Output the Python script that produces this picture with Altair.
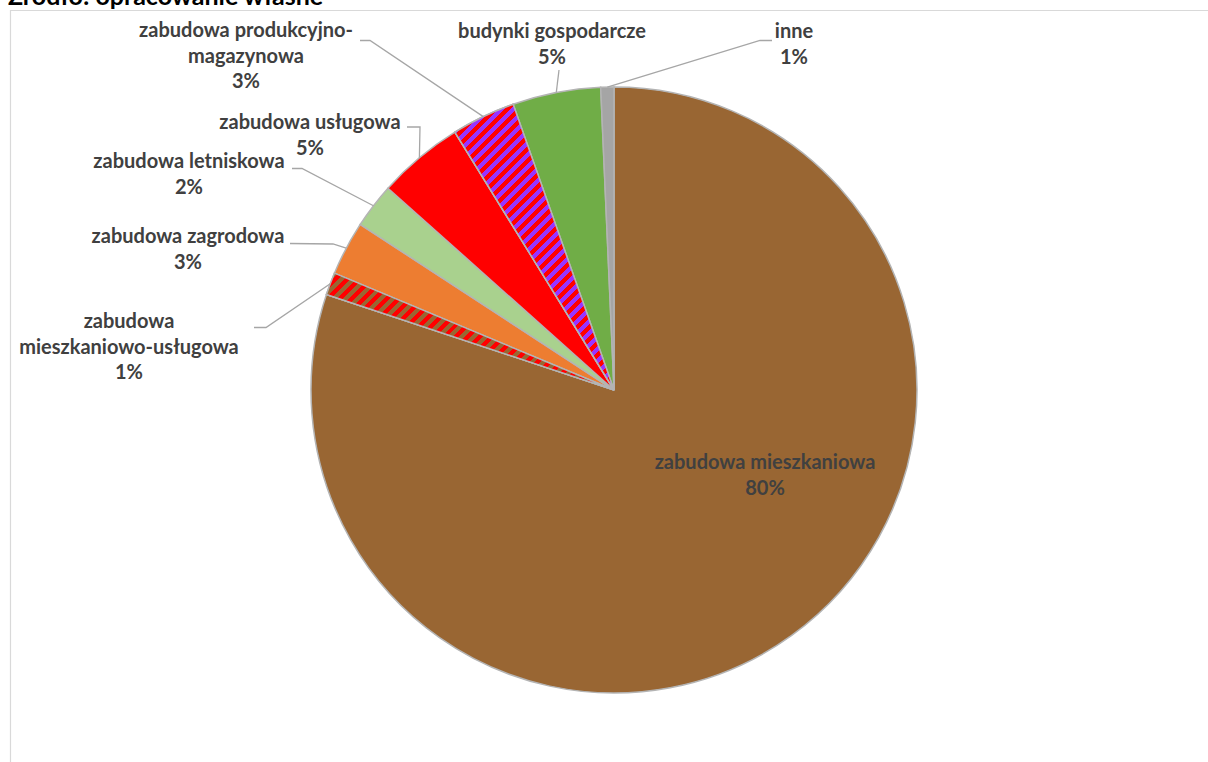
import math
import altair as alt
import pandas as pd

# ---------------- data ----------------
categories = [
    "zabudowa mieszkaniowa",
    "zabudowa mieszkaniowo-usługowa",
    "zabudowa zagrodowa",
    "zabudowa letniskowa",
    "zabudowa usługowa",
    "zabudowa produkcyjno-magazynowa",
    "budynki gospodarcze",
    "inne",
]
label_names = [
    "zabudowa mieszkaniowa",
    "zabudowa\nmieszkaniowo-usługowa",
    "zabudowa zagrodowa",
    "zabudowa letniskowa",
    "zabudowa usługowa",
    "zabudowa produkcyjno-\nmagazynowa",
    "budynki gospodarcze",
    "inne",
]
shares = [80.1, 1.2, 2.9, 2.4, 4.6, 3.4, 4.7, 0.7]
title_text = "Źródło: opracowanie własne"

# ---------------- styles / layout ----------------
colors = ["#996633", "#FF0000", "#ED7D31", "#A9D18E", "#FF0000", "#9933FF", "#70AD47", "#A5A5A5"]
stripes = {
    "zabudowa mieszkaniowo-usługowa": ("#FF0000", "#996633"),
    "zabudowa produkcyjno-magazynowa": ("#9933FF", "#FF0000"),
}
W, H = 1208, 762
CX, CY, R = 614, 390, 303
FONT = "Lato"
label_x = [765, 129, 188, 189, 310, 246, 552, 794]
label_y = [469, 328, 243, 168, 129, 37, 38, 38]
leader_pts = {
    "zabudowa mieszkaniowo-usługowa": [(266, 327.5), (254, 327.5)],
    "zabudowa zagrodowa": [(333, 244), (290, 243.5)],
    "zabudowa letniskowa": [(302, 168.5), (292, 168.5)],
    "zabudowa usługowa": [(420, 127), (407, 127)],
    "zabudowa produkcyjno-magazynowa": [(370, 40.5), (360, 40.5)],
    "budynki gospodarcze": [(559, 70)],
    "inne": [(760, 40.5), (772, 40.5)],
}

total = sum(shares)
df = pd.DataFrame({"category": categories, "value": shares, "order": list(range(len(categories)))})

# cumulative angles (for leader starts and stripe gradients)
cum = []
acc = 0.0
for v in shares:
    cum.append((acc, acc + v))
    acc += v


def ang(v):
    return 2 * math.pi * v / total


xs = alt.Scale(domain=[0, W], range=[0, W], nice=False, zero=False)
ys = alt.Scale(domain=[0, H], range=[0, H], nice=False, zero=False)

# ---------------- frame + title ----------------
one = pd.DataFrame({"k": [1]})
frame_top = alt.Chart(one).mark_rule(color="#d9d9d9", strokeWidth=1.2).encode(
    x=alt.value(10), x2=alt.value(W), y=alt.value(10.5))
frame_left = alt.Chart(one).mark_rule(color="#d9d9d9", strokeWidth=1.2).encode(
    x=alt.value(10.5), y=alt.value(10), y2=alt.value(H))
title = alt.Chart(one).mark_text(
    text=title_text, align="left", baseline="alphabetic", font=FONT,
    fontWeight="bold", fontSize=25, color="#000000").encode(x=alt.value(8), y=alt.value(5))

# ---------------- pie ----------------
base = alt.Chart(df).transform_window(
    end="sum(value)", sort=[alt.SortField("order")], frame=[None, 0]
).transform_calculate(start="datum.end - datum.value")

theta = alt.Theta("start:Q", scale=alt.Scale(domain=[0, total], range=[0, 2 * math.pi]))
arcs = base.mark_arc(radius=R, stroke="#b4b4b4", strokeWidth=1.5).encode(
    theta=theta, theta2="end:Q",
    color=alt.Color("category:N", scale=alt.Scale(domain=categories, range=colors), legend=None),
    x=alt.value(CX), y=alt.value(CY),
)


def stripe_gradient(a0, a1, c_base, c_stripe, period=8.5):
    pts = [(0.0, 0.0), (R * math.sin(a0), -R * math.cos(a0)), (R * math.sin(a1), -R * math.cos(a1))]
    for q in range(0, 5):
        qa = q * math.pi / 2
        if a0 < qa < a1:
            pts.append((R * math.sin(qa), -R * math.cos(qa)))
    w = max(p[0] for p in pts) - min(p[0] for p in pts)
    h = max(p[1] for p in pts) - min(p[1] for p in pts)
    k = (w + h) / (w * w + h * h)
    L = (w + h) / math.sqrt(2)
    n = max(1, round(L / period))
    stops = []
    for i in range(n):
        o0, om, o1 = i / n, (i + 0.5) / n, (i + 1) / n
        stops += [
            {"offset": o0, "color": c_base}, {"offset": om, "color": c_base},
            {"offset": om, "color": c_stripe}, {"offset": min(o1, 1.0), "color": c_stripe},
        ]
    return {"gradient": "linear", "x1": 0, "y1": 0, "x2": w * k, "y2": h * k, "stops": stops}


stripe_layers = []
for cat, (cb, cs) in stripes.items():
    i = categories.index(cat)
    a0, a1 = ang(cum[i][0]), ang(cum[i][1])
    grad = stripe_gradient(a0, a1, cb, cs)
    stripe_layers.append(
        base.transform_filter(alt.datum.category == cat)
        .mark_arc(radius=R, stroke="#b4b4b4", strokeWidth=1.5, fill=grad)
        .encode(theta=theta, theta2="end:Q", x=alt.value(CX), y=alt.value(CY))
    )

# ---------------- leader lines ----------------
rows = []
for cat, pts in leader_pts.items():
    i = categories.index(cat)
    mid = ang((cum[i][0] + cum[i][1]) / 2)
    sx, sy = CX + R * math.sin(mid), CY - R * math.cos(mid)
    rows.append({"category": cat, "idx": 0, "px": sx, "py": sy})
    for j, (px, py) in enumerate(pts):
        rows.append({"category": cat, "idx": j + 1, "px": px, "py": py})
leader_df = pd.DataFrame(rows)
leaders = alt.Chart(leader_df).mark_line(color="#a6a6a6", strokeWidth=1.3).encode(
    x=alt.X("px:Q", scale=xs, axis=None),
    y=alt.Y("py:Q", scale=ys, axis=None),
    detail="category:N",
    order="idx:Q",
)

# ---------------- labels ----------------
lab_df = pd.DataFrame({
    "label": [f"{n}\n{round(v)}%" for n, v in zip(label_names, shares)],
    "lx": label_x,
    "ly": label_y,
})
labels = alt.Chart(lab_df).mark_text(
    align="center", baseline="alphabetic", lineBreak="\n", lineHeight=25.5,
    font=FONT, fontWeight="bold", fontSize=20, color="#404040",
).encode(
    x=alt.X("lx:Q", scale=xs, axis=None),
    y=alt.Y("ly:Q", scale=ys, axis=None),
    text="label:N",
)

chart = alt.layer(
    frame_top, frame_left, title, arcs, *stripe_layers, leaders, labels
).properties(
    width=W, height=H, padding=0, background="white",
    autosize=alt.AutoSizeParams(type="none"),
).configure_view(stroke=None)

chart.save("out.html", embed_options={"renderer": "svg", "actions": False})
